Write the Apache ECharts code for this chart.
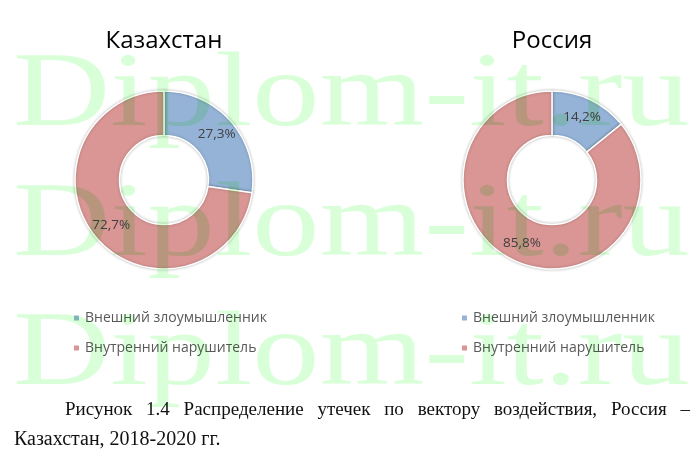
<!DOCTYPE html>
<html>
<head>
<meta charset="utf-8">
<script src="https://cdn.jsdelivr.net/npm/echarts@6/dist/echarts.min.js"></script>
<style>
html,body{margin:0;padding:0;background:#fff;}
#chart{width:700px;height:460px;}
#chart canvas[data-zr-dom-id="zr_1"]{mix-blend-mode:multiply;}
</style>
</head>
<body>
<div id="chart"></div>
<script>
const chartTitles = ['Казахстан', 'Россия'];
const categories = ['Внешний злоумышленник', 'Внутренний нарушитель'];
const kazValues = [27.3, 72.7];
const rusValues = [14.2, 85.8];
const sliceColors = ['#95B3D7', '#D99694'];
const captionLine1 = 'Рисунок 1.4 Распределение утечек по вектору воздействия, Россия –';
const captionLine2 = 'Казахстан, 2018-2020 гг.';
const watermarkText = 'Diplom-it.ru';

const SANS = '"Open Sans"';
const SERIF = '"Liberation Serif"';

function pieSeries(name, values, cx) {
  return {
    type: 'pie',
    name: name,
    center: [cx, 180],
    radius: [44.5, 89],
    startAngle: 90,
    clockwise: true,
    avoidLabelOverlap: false,
    silent: true,
    itemStyle: {
      borderColor: '#ffffff',
      borderWidth: 1.5,
      shadowBlur: 3,
      shadowColor: 'rgba(0,0,0,0.25)'
    },
    label: {
      show: true,
      position: 'inside',
      fontFamily: SANS,
      fontSize: 13.5,
      color: '#404040',
      formatter: p => String(p.value).replace('.', ',') + '%'
    },
    labelLine: { show: false },
    data: categories.map((c, i) => ({ name: c, value: values[i], itemStyle: { color: sliceColors[i] } }))
  };
}

// justified caption line
const mctx = document.createElement('canvas').getContext('2d');
const captionFont1 = '19px ' + SERIF;
const captionFont2 = '20px ' + SERIF;
mctx.font = captionFont1;
const words = captionLine1.split(' ');
const lineLeft = 65, lineRight = 690;
const wordWidths = words.map(w => mctx.measureText(w).width);
const totalW = wordWidths.reduce((a, b) => a + b, 0);
const gap = (lineRight - lineLeft - totalW) / (words.length - 1);
const captionEls = [];
let cx = lineLeft;
words.forEach((w, i) => {
  captionEls.push({
    type: 'text', x: cx, y: 410, z: 5,
    style: { text: w, font: captionFont1, fill: '#111', verticalAlign: 'middle', align: 'left' }
  });
  cx += wordWidths[i] + gap;
});
captionEls.push({
  type: 'text', x: 14, y: 440, z: 5,
  style: { text: captionLine2, font: captionFont2, fill: '#111', verticalAlign: 'middle', align: 'left' }
});

const wmEls = [97, 227, 356].map(y => ({
  type: 'text', x: 13, y: y, z: 100, zlevel: 1, scaleX: 1.27, silent: true,
  style: { text: watermarkText, font: '106px ' + SERIF, fill: '#d9ffd9', verticalAlign: 'middle', align: 'left' }
}));

const chart = echarts.init(document.getElementById('chart'), null, { renderer: 'canvas' });
chart.setOption({
  animation: false,
  backgroundColor: '#ffffff',
  title: [
    { text: chartTitles[0], left: 164, top: 29, padding: 0, textAlign: 'center',
      textStyle: { fontFamily: SANS, fontSize: 24, fontWeight: 'normal', color: '#000' } },
    { text: chartTitles[1], left: 552, top: 29, padding: 0, textAlign: 'center',
      textStyle: { fontFamily: SANS, fontSize: 24, fontWeight: 'normal', color: '#000' } }
  ],
  legend: [
    { data: categories, orient: 'vertical', left: 72, top: 311, padding: 0, icon: 'rect', itemWidth: 7, itemHeight: 7, itemGap: 16,
      selectedMode: false, textStyle: { fontFamily: SANS, fontSize: 14, lineHeight: 14, color: '#595959' } },
    { data: categories, orient: 'vertical', left: 460, top: 311, padding: 0, icon: 'rect', itemWidth: 7, itemHeight: 7, itemGap: 16,
      selectedMode: false, textStyle: { fontFamily: SANS, fontSize: 14, lineHeight: 14, color: '#595959' } }
  ],
  series: [
    pieSeries(chartTitles[0], kazValues, 164),
    pieSeries(chartTitles[1], rusValues, 552)
  ],
  graphic: captionEls.concat(wmEls)
});
// make the watermark layer multiply over the chart, as in the source picture
document.querySelectorAll('#chart canvas').forEach((c, i) => { if (i > 0) c.style.mixBlendMode = 'multiply'; });
</script>
</body>
</html>
